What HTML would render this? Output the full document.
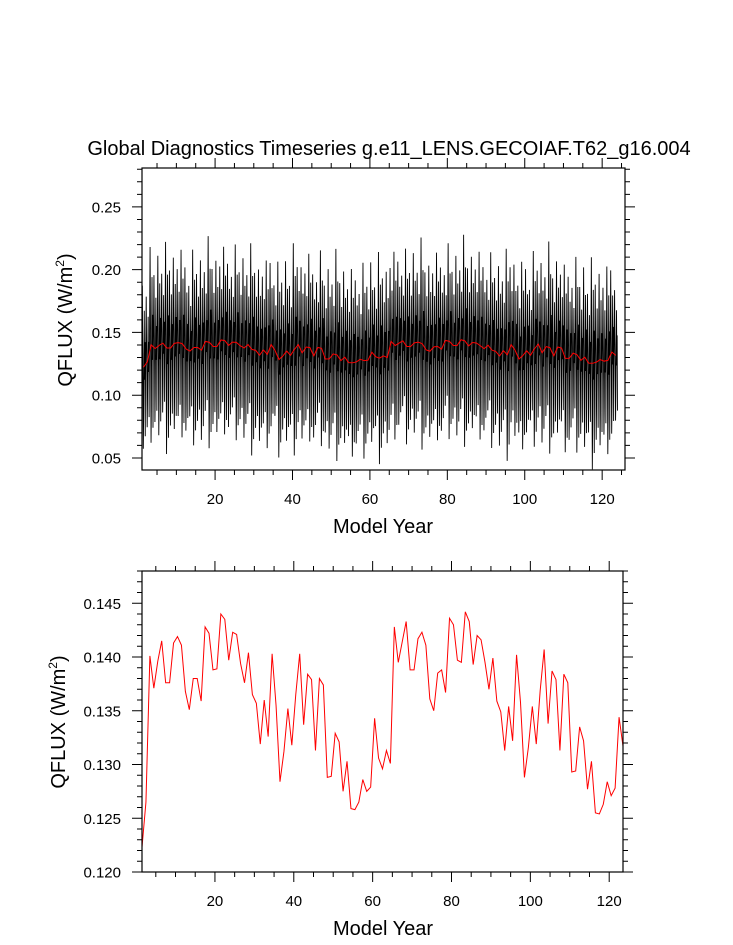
<!DOCTYPE html>
<html><head><meta charset="utf-8"><style>
html,body{margin:0;padding:0;background:#fff;}
svg{display:block;font-family:"Liberation Sans",sans-serif;}
</style></head><body>
<svg id="c" width="733" height="945" xmlns="http://www.w3.org/2000/svg">
<text x="389" y="155" text-anchor="middle" font-size="20">Global Diagnostics Timeseries g.e11_LENS.GECOIAF.T62_g16.004</text>
<text x="383" y="533" text-anchor="middle" font-size="20">Model Year</text>
<text x="383" y="935" text-anchor="middle" font-size="20">Model Year</text>
<text transform="translate(72,320) rotate(-90)" text-anchor="middle" font-size="20">QFLUX (W/m<tspan dy="-8" font-size="12">2</tspan><tspan dy="8">)</tspan></text>
<text transform="translate(65,722) rotate(-90)" text-anchor="middle" font-size="20">QFLUX (W/m<tspan dy="-8" font-size="12">2</tspan><tspan dy="8">)</tspan></text>
</svg>
<script>
// Annual mean QFLUX (years 1.5 .. 123.5)
const annual = [0.1223,0.1265,0.1401,0.1371,0.1396,0.1415,0.1376,0.1376,0.1413,0.1419,
0.1411,0.1368,0.1351,0.1380,0.1380,0.1359,0.1428,0.1422,0.1388,0.1389,
0.1440,0.1435,0.1397,0.1423,0.1421,0.1394,0.1376,0.1404,0.1365,0.1357,
0.1319,0.1360,0.1326,0.1403,0.1355,0.1284,0.1312,0.1352,0.1318,0.1365,
0.1403,0.1337,0.1384,0.1379,0.1313,0.1380,0.1374,0.1288,0.1289,0.1329,
0.1321,0.1275,0.1303,0.1259,0.1258,0.1265,0.1286,0.1275,0.1279,0.1343,
0.1306,0.1296,0.1313,0.1301,0.1428,0.1395,0.1414,0.1433,0.1388,0.1388,
0.1417,0.1423,0.1411,0.1361,0.1350,0.1385,0.1388,0.1367,0.1436,0.1430,
0.1397,0.1395,0.1442,0.1433,0.1393,0.1420,0.1416,0.1395,0.1370,0.1399,
0.1359,0.1349,0.1313,0.1354,0.1322,0.1402,0.1358,0.1288,0.1316,0.1354,
0.1319,0.1369,0.1407,0.1338,0.1387,0.1379,0.1313,0.1384,0.1376,0.1293,
0.1294,0.1335,0.1322,0.1277,0.1303,0.1255,0.1254,0.1263,0.1284,0.1271,
0.1278,0.1344,0.1317];
const firstYear = 1.5;
// Monthly seasonal anomaly and year-to-year amplitude factors
const seasonal = [-0.005,0.03,0.065,0.02,-0.015,-0.065,-0.04,0.01,0.045,-0.01,0.02,-0.055];
const ampFactor = [1.0,0.8,1.2,0.9,1.1,0.85,1.3,0.95,1.05,0.9,1.15];
const topYTicks = [0.05,0.10,0.15,0.20,0.25];
const botYTicks = [0.120,0.125,0.130,0.135,0.140,0.145];
const xTicks = [20,40,60,80,100,120];

const svgEl = document.getElementById('c');
const NS = 'http://www.w3.org/2000/svg';
function mk(tag, attrs){const e=document.createElementNS(NS,tag);for(const k in attrs)e.setAttribute(k,attrs[k]);svgEl.appendChild(e);return e;}

function panel(p){
  const sx=v=>p.x0+(v-p.xd[0])/(p.xd[1]-p.xd[0])*(p.x1-p.x0);
  const sy=v=>p.y1-(v-p.yd[0])/(p.yd[1]-p.yd[0])*(p.y1-p.y0);
  let d='';
  for(let v=0;v<=130;v+=5){ if(v<p.xd[0]||v>p.xd[1])continue; const L=(v%20===0)?10:5; const X=sx(v);
    d+=`M${X},${p.y1}v${L}M${X},${p.y0}v${-L}`;}
  const s0=Math.ceil(p.yd[0]/p.minor-1e-6);
  for(let i=s0;i<s0+400;i++){const v=i*p.minor; if(v>p.yd[1]+1e-9)break; const maj=Math.abs(v/p.major-Math.round(v/p.major))<1e-6; const L=maj?10:5; const Y=sy(v);
    d+=`M${p.x0},${Y}h${-L}M${p.x1},${Y}h${L}`;}
  const t=mk('path',{d:d,stroke:'#000','stroke-width':1,fill:'none'});
  
  
  xTicks.forEach(v=>{const e=mk('text',{x:sx(v),y:p.y1+34,'text-anchor':'middle','font-size':15});e.textContent=v;
    
    });
  p.yt.forEach(v=>{const e=mk('text',{x:p.x0-21,y:sy(v)+5.5,'text-anchor':'end','font-size':15});e.textContent=v.toFixed(p.dec);
    
    });
  const clip=mk('clipPath',{id:p.name+'-clip'});
  const cr=document.createElementNS(NS,'rect');cr.setAttribute('x',p.x0);cr.setAttribute('y',p.y0);cr.setAttribute('width',p.x1-p.x0);cr.setAttribute('height',p.y1-p.y0);clip.appendChild(cr);
  p.sx=sx;p.sy=sy;
  return p;
}
function frame(p){
  const f=mk('rect',{x:p.x0,y:p.y0,width:p.x1-p.x0,height:p.y1-p.y0,fill:'none',stroke:'#000','stroke-width':1.2});
  
  
}
function drawLine(p,pts,color,name,w){
  const d=pts.map((q,i)=>(i?'L':'M')+p.sx(q[0]).toFixed(2)+','+p.sy(q[1]).toFixed(2)).join('');
  const e=mk('path',{d:d,stroke:color,'stroke-width':w,fill:'none','clip-path':`url(#${p.name}-clip)`});
  
  
}

const topPanel=panel({name:'top-panel',x0:142,x1:625,y0:168,y1:470,xd:[1.12,125.9],yd:[0.0404,0.281],minor:0.01,major:0.05,yt:topYTicks,dec:2});
const botPanel=panel({name:'bottom-panel',x0:142,x1:623,y0:571,y1:872,xd:[1.5,123.5],yd:[0.120,0.1480],minor:0.001,major:0.005,yt:botYTicks,dec:3});

const monthly=[];
annual.forEach((a,yi)=>{seasonal.forEach((s,m)=>{monthly.push([firstYear-0.5+yi+(m+0.5)/12, a+s*ampFactor[yi%ampFactor.length]]);});});
drawLine(topPanel,monthly,'#000','monthly-qflux-line',0.9);
const ann=annual.map((v,i)=>[firstYear+i,v]);
drawLine(topPanel,ann,'#ff0000','annual-mean-line-top',1);
drawLine(botPanel,ann,'#ff0000','annual-mean-line',1);
frame(topPanel);frame(botPanel);
</script>
</body></html>
